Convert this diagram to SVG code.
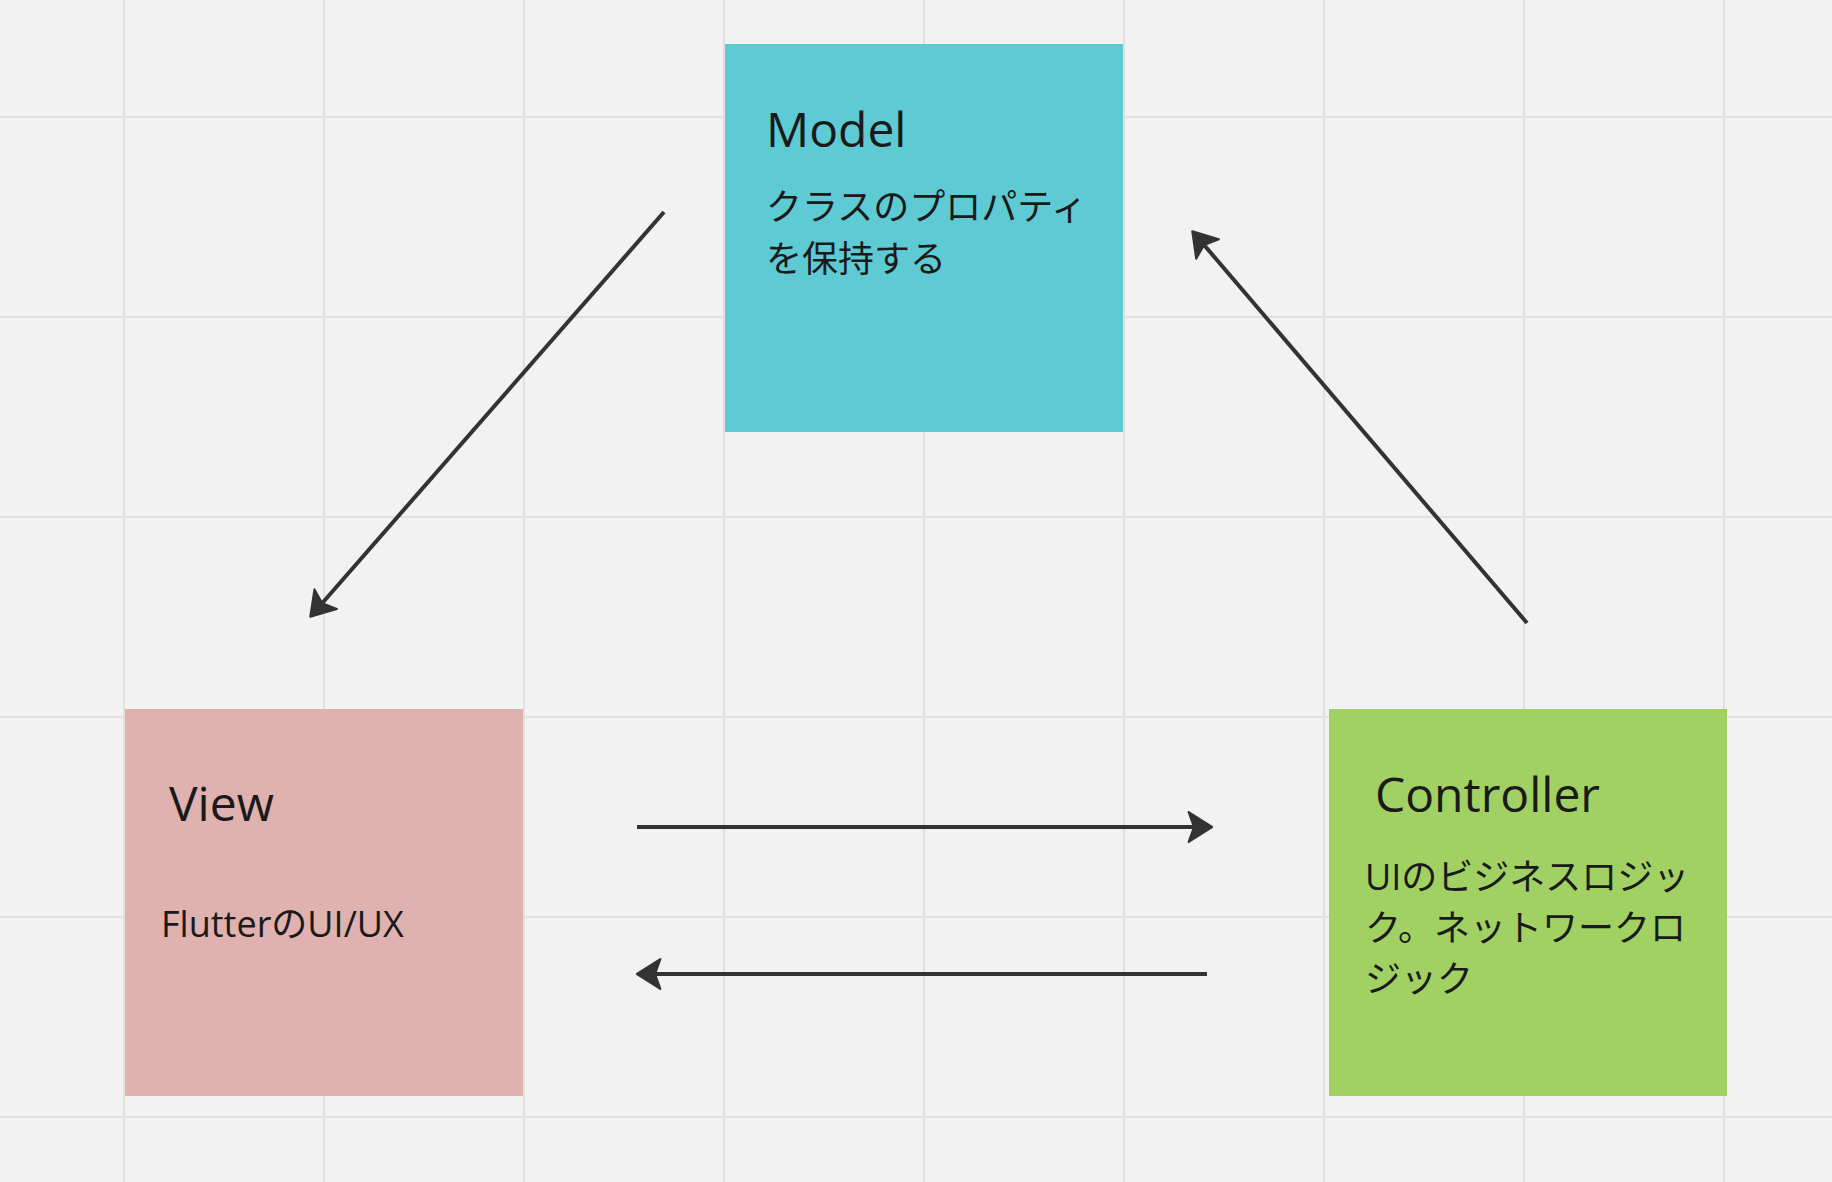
<svg xmlns="http://www.w3.org/2000/svg" width="1832" height="1182" viewBox="0 0 1832 1182">
<style>
.grid line{stroke:#e0e0e0;stroke-width:2}
.title{font-family:"Open Sans","Noto Sans","Noto Sans CJK JP",sans-serif;font-size:48px;fill:#1a1a1a}
.body{font-family:"Open Sans","Noto Sans","Noto Sans CJK JP",sans-serif;font-size:36px;fill:#1a1a1a}
.conn line{stroke:#333333;stroke-width:4;fill:none}
</style>
<defs>
<marker id="ah" markerUnits="userSpaceOnUse" markerWidth="30" markerHeight="34" viewBox="-2 -16 28 32" refX="21" refY="0" orient="auto">
<path d="M0,-14 L22,0 L0,14 L5,0 Z" fill="#333333" stroke="#333333" stroke-width="2" stroke-linejoin="round"/>
</marker>
</defs>
<rect width="1832" height="1182" fill="#f2f2f2"/>
<g class="grid">
<line x1="124" y1="0" x2="124" y2="1182"/>
<line x1="324" y1="0" x2="324" y2="1182"/>
<line x1="524" y1="0" x2="524" y2="1182"/>
<line x1="724" y1="0" x2="724" y2="1182"/>
<line x1="924" y1="0" x2="924" y2="1182"/>
<line x1="1124" y1="0" x2="1124" y2="1182"/>
<line x1="1324" y1="0" x2="1324" y2="1182"/>
<line x1="1524" y1="0" x2="1524" y2="1182"/>
<line x1="1724" y1="0" x2="1724" y2="1182"/>
<line x1="0" y1="117" x2="1832" y2="117"/>
<line x1="0" y1="317" x2="1832" y2="317"/>
<line x1="0" y1="517" x2="1832" y2="517"/>
<line x1="0" y1="717" x2="1832" y2="717"/>
<line x1="0" y1="917" x2="1832" y2="917"/>
<line x1="0" y1="1117" x2="1832" y2="1117"/>
</g>
<g id="model">
<rect x="725" y="44" width="398" height="388" fill="#5ecad3"/>
<text class="title" x="766" y="147">Model</text>
<text class="body" x="766" y="220">クラスのプロパティ</text>
<text class="body" x="766" y="272">を保持する</text>
</g>
<g id="view">
<rect x="125" y="709" width="398" height="387" fill="#dfb1af"/>
<text class="title" x="169" y="821">View</text>
<text class="body" x="161" y="937">FlutterのUI/UX</text>
</g>
<g id="controller">
<rect x="1329" y="709" width="398" height="387" fill="#a0d162"/>
<text class="title" x="1375" y="812">Controller</text>
<text class="body" x="1365" y="890">UIのビジネスロジッ</text>
<text class="body" x="1365" y="941">ク。ネットワークロ</text>
<text class="body" x="1365" y="992">ジック</text>
</g>
<g class="conn">
<line x1="664" y1="212" x2="311" y2="616" marker-end="url(#ah)"/>
<line x1="1527" y1="623" x2="1193" y2="232" marker-end="url(#ah)"/>
<line x1="637" y1="827" x2="1211" y2="827" marker-end="url(#ah)"/>
<line x1="1207" y1="974" x2="638" y2="974" marker-end="url(#ah)"/>
</g>
</svg>
